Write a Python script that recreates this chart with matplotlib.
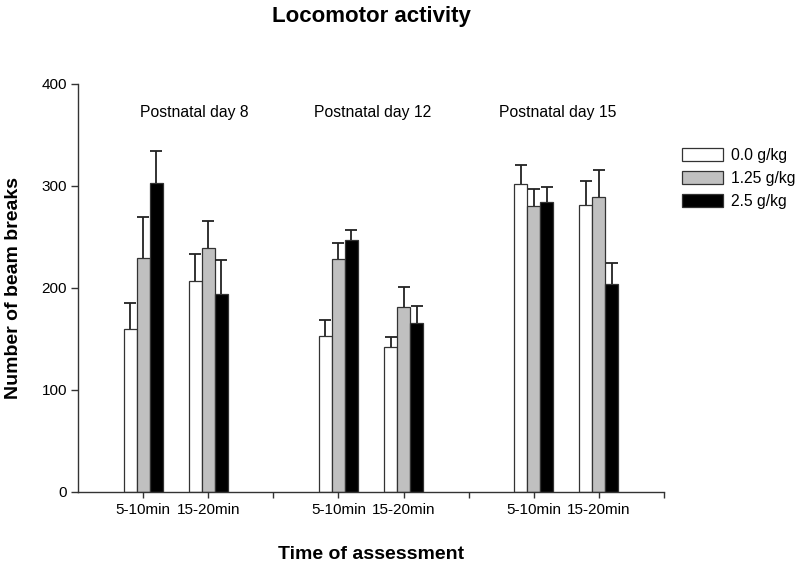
import matplotlib
matplotlib.use("Agg")
import matplotlib.pyplot as plt
import numpy as np

plt.rcParams['font.family'] = ['Liberation Sans', 'DejaVu Sans']

# Data
time_labels = ["5-10min", "15-20min", "5-10min", "15-20min", "5-10min", "15-20min"]
positions = [1, 2, 4, 5, 7, 8]
panel_labels = ["Postnatal day 8", "Postnatal day 12", "Postnatal day 15"]
series_names = ["0.0 g/kg", "1.25 g/kg", "2.5 g/kg"]
dose_0 = [160, 207, 153, 142, 302, 281]
dose_0_err = [25, 26, 16, 10, 19, 24]
dose_125 = [229, 239, 228, 181, 280, 289]
dose_125_err = [41, 27, 16, 20, 17, 27]
dose_25 = [303, 194, 247, 166, 284, 204]
dose_25_err = [31, 33, 10, 16, 15, 20]

values = [dose_0, dose_125, dose_25]
errors = [dose_0_err, dose_125_err, dose_25_err]
colors = ["white", "#c0c0c0", "black"]
offsets = [-0.2, 0.0, 0.2]
width = 0.2

fig = plt.figure(figsize=(8, 5.67), dpi=100)
ax = fig.add_axes([0.0975, 0.1323, 0.7325, 0.7196])

x = np.array(positions, dtype=float)
handles = []
for vals, errs, c, off, name in zip(values, errors, colors, offsets, series_names):
    b = ax.bar(x + off, vals, width=width, color=c, edgecolor="#333333",
               linewidth=0.9, label=name, zorder=2)
    handles.append(b)
    eb = ax.errorbar(x + off, vals, yerr=[np.zeros(len(vals)), errs], fmt='none',
                     ecolor="#222222", elinewidth=1.3, capsize=4, capthick=1.3, zorder=3)
    eb[1][0].set_visible(False)

ax.set_xlim(0, 9)
ax.set_ylim(0, 400)
ax.set_yticks([0, 100, 200, 300, 400])
ax.set_xticks([1, 2, 3, 4, 5, 6, 7, 8, 9])
ax.set_xticklabels(["5-10min", "15-20min", "", "5-10min", "15-20min", "", "5-10min", "15-20min", ""])
ax.tick_params(axis='x', length=4, width=1, colors="#333333", labelcolor="black", labelsize=11, pad=4)
ax.tick_params(axis='y', length=5, width=1, colors="#333333", labelcolor="black", labelsize=11, pad=3)
for s in ["top", "right"]:
    ax.spines[s].set_visible(False)
for s in ["left", "bottom"]:
    ax.spines[s].set_color("#333333")
    ax.spines[s].set_linewidth(1)

panel_x = [1.78, 4.52, 7.37]
for px, lab in zip(panel_x, panel_labels):
    ax.text(px, 372, lab, ha='center', va='center', fontsize=11.3)

ax.set_ylabel("Number of beam breaks", fontsize=14, fontweight='bold', labelpad=14)
ax.set_xlabel("Time of assessment", fontsize=14, fontweight='bold', labelpad=21)
fig.text(0.464, 0.99, "Locomotor activity", ha='center', va='top', fontsize=16, fontweight='bold')

ax.legend(handles=handles, labels=series_names, loc='upper left',
          bbox_to_anchor=(0.853, 0.739), bbox_transform=fig.transFigure,
          frameon=False, fontsize=11.3, handlelength=2.6, handleheight=0.85,
          labelspacing=0.5, handletextpad=0.5, borderaxespad=0, borderpad=0)

fig.savefig("out.png", dpi=100)
